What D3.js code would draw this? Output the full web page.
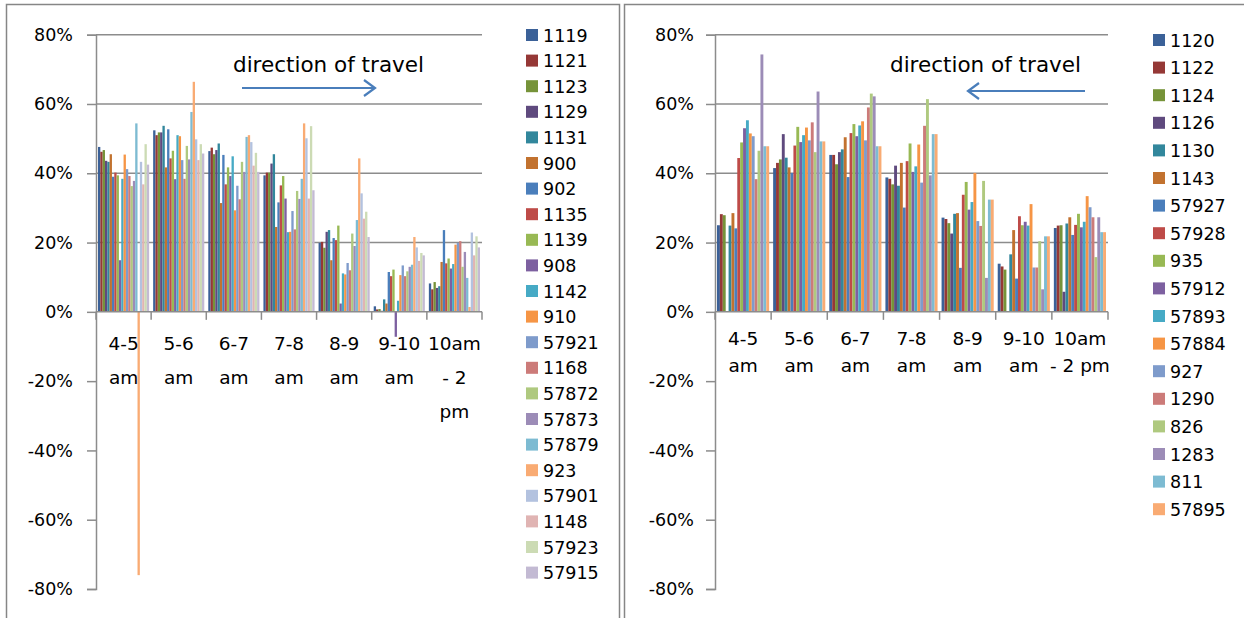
<!DOCTYPE html>
<html lang="en"><head><meta charset="utf-8">
<script type="text/javascript" src="https://cdn.jsdelivr.net/npm/d3@7"></script>
<style>
  body { margin: 0; background: #fff; }
  text { font-family: "DejaVu Sans", sans-serif; fill: #000; }
</style>
</head>
<body>
<script type="text/javascript">
// two clustered column charts, side by side, same y scale

var categories = ["4-5 am", "5-6 am", "6-7 am", "7-8 am", "8-9 am", "9-10 am", "10am - 2 pm"];
var leftCatLines = [["4-5", "am"], ["5-6", "am"], ["6-7", "am"], ["7-8", "am"], ["8-9", "am"], ["9-10", "am"], ["10am", "- 2", "pm"]];
var rightCatLines = [["4-5", "am"], ["5-6", "am"], ["6-7", "am"], ["7-8", "am"], ["8-9", "am"], ["9-10", "am"], ["10am", "- 2 pm"]];
var yTicks = [-0.8, -0.6, -0.4, -0.2, 0, 0.2, 0.4, 0.6, 0.8];

var leftSeries = ["1119", "1121", "1123", "1129", "1131", "900", "902", "1135", "1139", "908", "1142",
                  "910", "57921", "1168", "57872", "57873", "57879", "923", "57901", "1148", "57923", "57915"];
// one row per series, one value (%) per category
var leftValues = [
  [47.6, 52.4, 46.4, 39.4, 19.9, 1.6, 8.2],
  [46.2, 51.0, 47.4, 40.2, 20.2, 0.7, 6.5],
  [46.7, 51.8, 45.5, 40.2, 18.5, 0.8, 8.6],
  [43.6, 51.8, 46.7, 42.8, 23.1, 0.3, 6.9],
  [43.3, 53.7, 48.6, 45.5, 23.6, 3.6, 7.4],
  [45.5, 41.7, 31.4, 24.5, 14.9, 2.4, 14.4],
  [39.0, 52.7, 45.3, 31.6, 21.3, 11.5, 23.6],
  [40.2, 44.3, 36.8, 36.5, 20.7, 10.3, 14.0],
  [39.4, 46.5, 41.7, 39.2, 24.9, 12.2, 15.4],
  [14.9, 38.3, 39.2, 32.7, 2.4, -7.2, 12.5],
  [38.4, 51.0, 44.9, 23.0, 11.1, 3.2, 13.8],
  [45.4, 50.7, 29.3, 23.1, 10.8, 10.6, 19.4],
  [41.2, 43.8, 36.4, 29.1, 14.1, 13.4, 19.9],
  [39.2, 38.4, 32.5, 23.8, 12.0, 10.3, 20.4],
  [36.3, 47.9, 43.3, 34.9, 22.6, 11.7, 13.0],
  [37.8, 44.0, 40.4, 32.6, 19.0, 13.0, 17.3],
  [54.4, 57.7, 50.5, 38.4, 26.5, 13.6, 9.8],
  [-76.0, 66.4, 51.0, 54.4, 44.3, 21.6, 1.4],
  [43.3, 49.8, 49.0, 50.1, 34.2, 18.6, 22.9],
  [36.8, 43.8, 42.2, 32.7, 26.9, 14.7, 16.3],
  [48.4, 48.4, 45.9, 53.6, 28.9, 17.0, 21.8],
  [42.5, 45.7, 40.4, 35.1, 21.6, 16.3, 18.6]
];

var rightSeries = ["1120", "1122", "1124", "1126", "1130", "1143", "57927", "57928", "935",
                   "57912", "57893", "57884", "927", "1290", "826", "1283", "811", "57895"];
var rightValues = [
  [25.0, 41.5, 45.3, 38.8, 27.2, 13.9, 24.2],
  [28.2, 43.0, 45.3, 38.4, 26.8, 13.1, 24.9],
  [27.9, 44.0, 42.6, 36.8, 25.6, 12.2, 25.0],
  [null, 51.3, 46.1, 42.2, 22.6, null, 5.8],
  [24.9, 44.5, 46.9, 36.4, 28.3, 16.6, 25.5],
  [28.5, 41.7, 50.4, 43.0, 28.5, 23.6, 27.3],
  [24.1, 40.1, 38.9, 30.1, 12.7, 9.6, 22.2],
  [44.4, 48.0, 51.6, 43.5, 33.8, 27.6, 25.1],
  [48.9, 53.4, 54.2, 48.6, 37.5, 25.0, 28.3],
  [53.0, 49.0, 50.7, 40.4, 29.5, 26.0, 24.4],
  [55.3, 51.0, 53.8, 42.0, 31.7, 24.9, 26.0],
  [51.5, 53.2, 55.0, 48.3, 40.1, 31.1, 33.4],
  [50.7, 49.5, 49.5, 37.3, 26.2, 12.8, 30.2],
  [38.3, 54.7, 59.0, 53.7, 24.8, 12.8, 27.3],
  [46.5, 46.1, 63.0, 61.4, 37.8, 20.4, 15.8],
  [74.3, 63.6, 62.2, 39.4, 9.8, 6.5, 27.3],
  [47.8, 49.2, 47.8, 51.3, 32.4, 21.8, 23.0],
  [47.8, 49.2, 47.8, 51.3, 32.4, 21.8, 23.0]
];

// excel 2007 palette: dark shades, base accents, light tints, lightest tints
var palette = [
  "#3B6198", "#953836", "#769339", "#5F4A7E", "#32879C", "#C2722F",
  "#4A7EBB", "#BE4B48", "#98B954", "#7D60A0", "#46AAC5", "#F69545",
  "#7E9BCB", "#CC7B79", "#AFC97F", "#9C8CB7", "#7DBBD2", "#F9AB73",
  "#B3C2DF", "#E0B4B3", "#CCDBB4", "#C3BAD3"
];

var W = 1244, H = 618;
var svg = d3.select("body").append("svg").attr("width", W).attr("height", H);

// chart frames
svg.append("rect").attr("x", 6.5).attr("y", 4.5).attr("width", 613).attr("height", 640)
  .attr("fill", "none").attr("stroke", "#868686").attr("stroke-width", 1.5);
svg.append("rect").attr("x", 624.5).attr("y", 4.5).attr("width", 640).attr("height", 640)
  .attr("fill", "none").attr("stroke", "#868686").attr("stroke-width", 1.5);

var y = d3.scaleLinear().domain([-0.8, 0.8]).range([589, 34.7]);
var pct = d => Math.round(d * 100) + "%";

function drawPanel(opt) {
  var g = svg.append("g");
  var x0 = d3.scaleBand().domain(categories).range([opt.left, opt.right]);
  var bw = x0.bandwidth();
  var x1 = d3.scaleBand().domain(opt.series).range([opt.gap / 2, bw - opt.gap / 2]);

  // gridlines (positive side only, as in the source)
  g.selectAll(".grid").data(yTicks.filter(d => d > 0)).enter().append("line")
    .attr("x1", opt.left).attr("x2", opt.right)
    .attr("y1", d => y(d)).attr("y2", d => y(d))
    .attr("stroke", "#8c8c8c").attr("stroke-width", 1.5);

  // bars
  opt.series.forEach(function(s, si) {
    var rows = opt.values[si].map((v, ci) => ({ c: categories[ci], v: v }))
      .filter(d => d.v !== null);
    g.selectAll(".b" + si).data(rows).enter().append("rect")
      .attr("x", d => x0(d.c) + x1(s))
      .attr("width", x1.bandwidth())
      .attr("y", d => y(Math.max(0, d.v / 100)))
      .attr("height", d => Math.abs(y(d.v / 100) - y(0)))
      .attr("fill", palette[si]);
  });

  // y axis
  var ya = g.append("g").attr("transform", "translate(" + opt.left + ",0)")
    .call(d3.axisLeft(y).tickValues(yTicks).tickFormat(pct).tickSize(9).tickPadding(opt.tickPad));
  ya.select(".domain").attr("stroke", "#8c8c8c").attr("stroke-width", 1.5);
  ya.selectAll(".tick line").attr("stroke", "#8c8c8c").attr("stroke-width", 1.5);
  ya.selectAll("text").style("font-family", "DejaVu Sans").style("font-size", "17.5px").attr("fill", "#000");

  // category axis at 0
  g.append("line").attr("x1", opt.left).attr("x2", opt.right)
    .attr("y1", y(0)).attr("y2", y(0)).attr("stroke", "#8c8c8c").attr("stroke-width", 1.5);
  var edges = categories.map(c => x0(c)).concat([opt.right]);
  g.selectAll(".ctick").data(edges).enter().append("line")
    .attr("x1", d => d).attr("x2", d => d)
    .attr("y1", y(0)).attr("y2", y(0) + 8)
    .attr("stroke", "#8c8c8c").attr("stroke-width", 1.5);

  categories.forEach(function(c, ci) {
    var t = g.append("text").attr("text-anchor", "middle")
      .attr("x", x0(c) + bw / 2).attr("y", opt.catY)
      .style("font-size", "18.5px");
    opt.catLines[ci].forEach(function(line, li) {
      t.append("tspan").attr("x", x0(c) + bw / 2).attr("dy", li === 0 ? 0 : opt.catStep).text(line);
    });
  });

  // legend
  var lg = g.append("g");
  opt.series.forEach(function(s, si) {
    var cy = opt.legY + si * opt.legStep;
    lg.append("rect").attr("x", opt.legX).attr("y", cy - 6).attr("width", 12).attr("height", 12)
      .attr("fill", palette[si]);
    lg.append("text").attr("x", opt.legX + 17).attr("y", cy + 6.5)
      .style("font-size", "17.5px").text(s);
  });

  // direction of travel note
  g.append("text").attr("x", opt.noteX).attr("y", 72).style("font-size", "21.5px").text("direction of travel");
  var a = opt.arrow;
  g.append("line").attr("x1", a[0]).attr("x2", a[1]).attr("y1", a[2]).attr("y2", a[2])
    .attr("stroke", "#4a7ebb").attr("stroke-width", 2.2);
  var dir = a[1] > a[0] ? -1 : 1;
  g.append("path")
    .attr("d", "M" + (a[1] + dir * 11) + "," + (a[2] - 8) + "L" + a[1] + "," + a[2] + "L" + (a[1] + dir * 11) + "," + (a[2] + 8))
    .attr("fill", "none").attr("stroke", "#4a7ebb").attr("stroke-width", 2.2);
}

drawPanel({
  series: leftSeries, values: leftValues, left: 96, right: 482, gap: 4, tickPad: 14,
  catLines: leftCatLines, catY: 350, catStep: 34,
  legX: 526, legY: 35, legStep: 25.6,
  noteX: 233, arrow: [242, 375, 88]
});

drawPanel({
  series: rightSeries, values: rightValues, left: 715, right: 1108, gap: 4, tickPad: 12,
  catLines: rightCatLines, catY: 345, catStep: 27,
  legX: 1153, legY: 40, legStep: 27.6,
  noteX: 890, arrow: [1085, 968, 91]
});
</script>
</body></html>
